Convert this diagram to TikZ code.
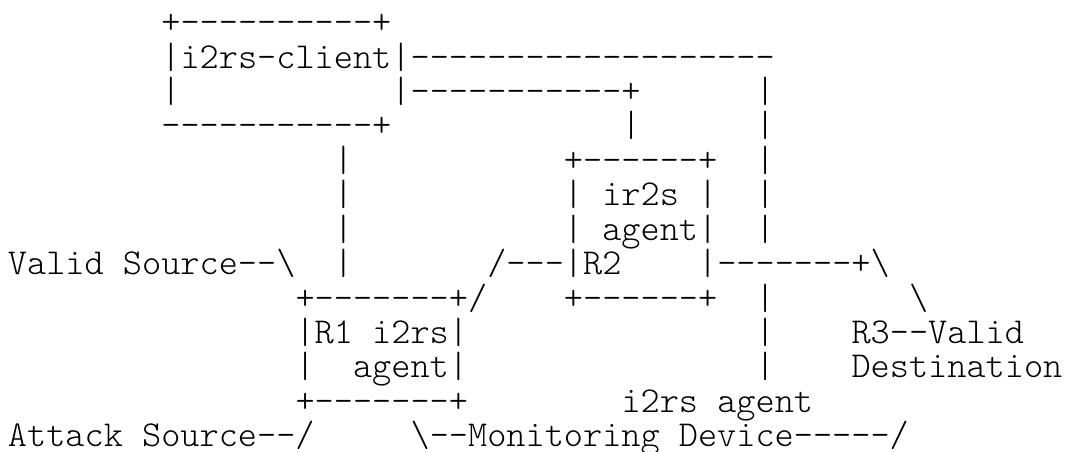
\documentclass[tikz,border=0pt]{standalone}
\usepackage{fontspec}
\setmonofont{Latin Modern Mono Light}

\begin{document}
\begin{tikzpicture}[x=19.17pt, y=-34.43pt,
    asc/.style={anchor=base west, inner sep=0pt, outer sep=0pt,
        font=\ttfamily\fontsize{36.5pt}{34.43pt}\selectfont}]
    \useasboundingbox (-0.417,0.025) rectangle (55.29,13.124);

    % i2rs-client box and its links
    \node[asc] (clienttop) at (8,1) {+----------+};
    \node[asc] (client) at (8,2) {|i2rs-client|};
    \node[asc] (linkthree) at (21,2) {-------------------};
    \node[asc] (clientleft) at (8,3) {|};
    \node[asc] (clientright) at (20,3) {|};
    \node[asc] (linktwo) at (21,3) {-----------+};
    \node[asc] (clientbot) at (8,4) {-----------+};
    \node[asc] (linktwodown) at (32,4) {|};
    \foreach \l in {3,4,5,6,7,9,10,11} { \node[asc] (linkthree\l) at (39,\l) {|}; }
    \foreach \l in {5,6,7,8} { \node[asc] (linkone\l) at (17,\l) {|}; }

    % R2 box
    \node[asc] (rtwotop) at (29,5) {+------+};
    \node[asc] (rtwoname) at (29,6) {| ir2s |};
    \node[asc] (rtwoagent) at (29,7) {| agent|};
    \node[asc] (rtwo) at (25,8) {/---|R2~~~~|-------+\textbackslash};
    \node[asc] (rtwobot) at (29,9) {+------+};

    % R1 box
    \node[asc] (validsrc) at (0,8) {Valid Source--\textbackslash};
    \node[asc] (ronetop) at (15,9) {+-------+/};
    \node[asc] (ronename) at (15,10) {|R1 i2rs|};
    \node[asc] (roneagent) at (15,11) {|~~agent|};
    \node[asc] (ronebot) at (15,12) {+-------+};
    \node[asc] (attacksrc) at (0,13) {Attack Source--/};

    % R3 and monitoring device
    \node[asc] (rthreelink) at (47,9) {\textbackslash};
    \node[asc] (rthree) at (44,10) {R3--Valid};
    \node[asc] (validdst) at (44,11) {Destination};
    \node[asc] (monagent) at (32,12) {i2rs agent};
    \node[asc] (monitor) at (21,13) {\textbackslash--Monitoring Device-----/};
\end{tikzpicture}
\end{document}
